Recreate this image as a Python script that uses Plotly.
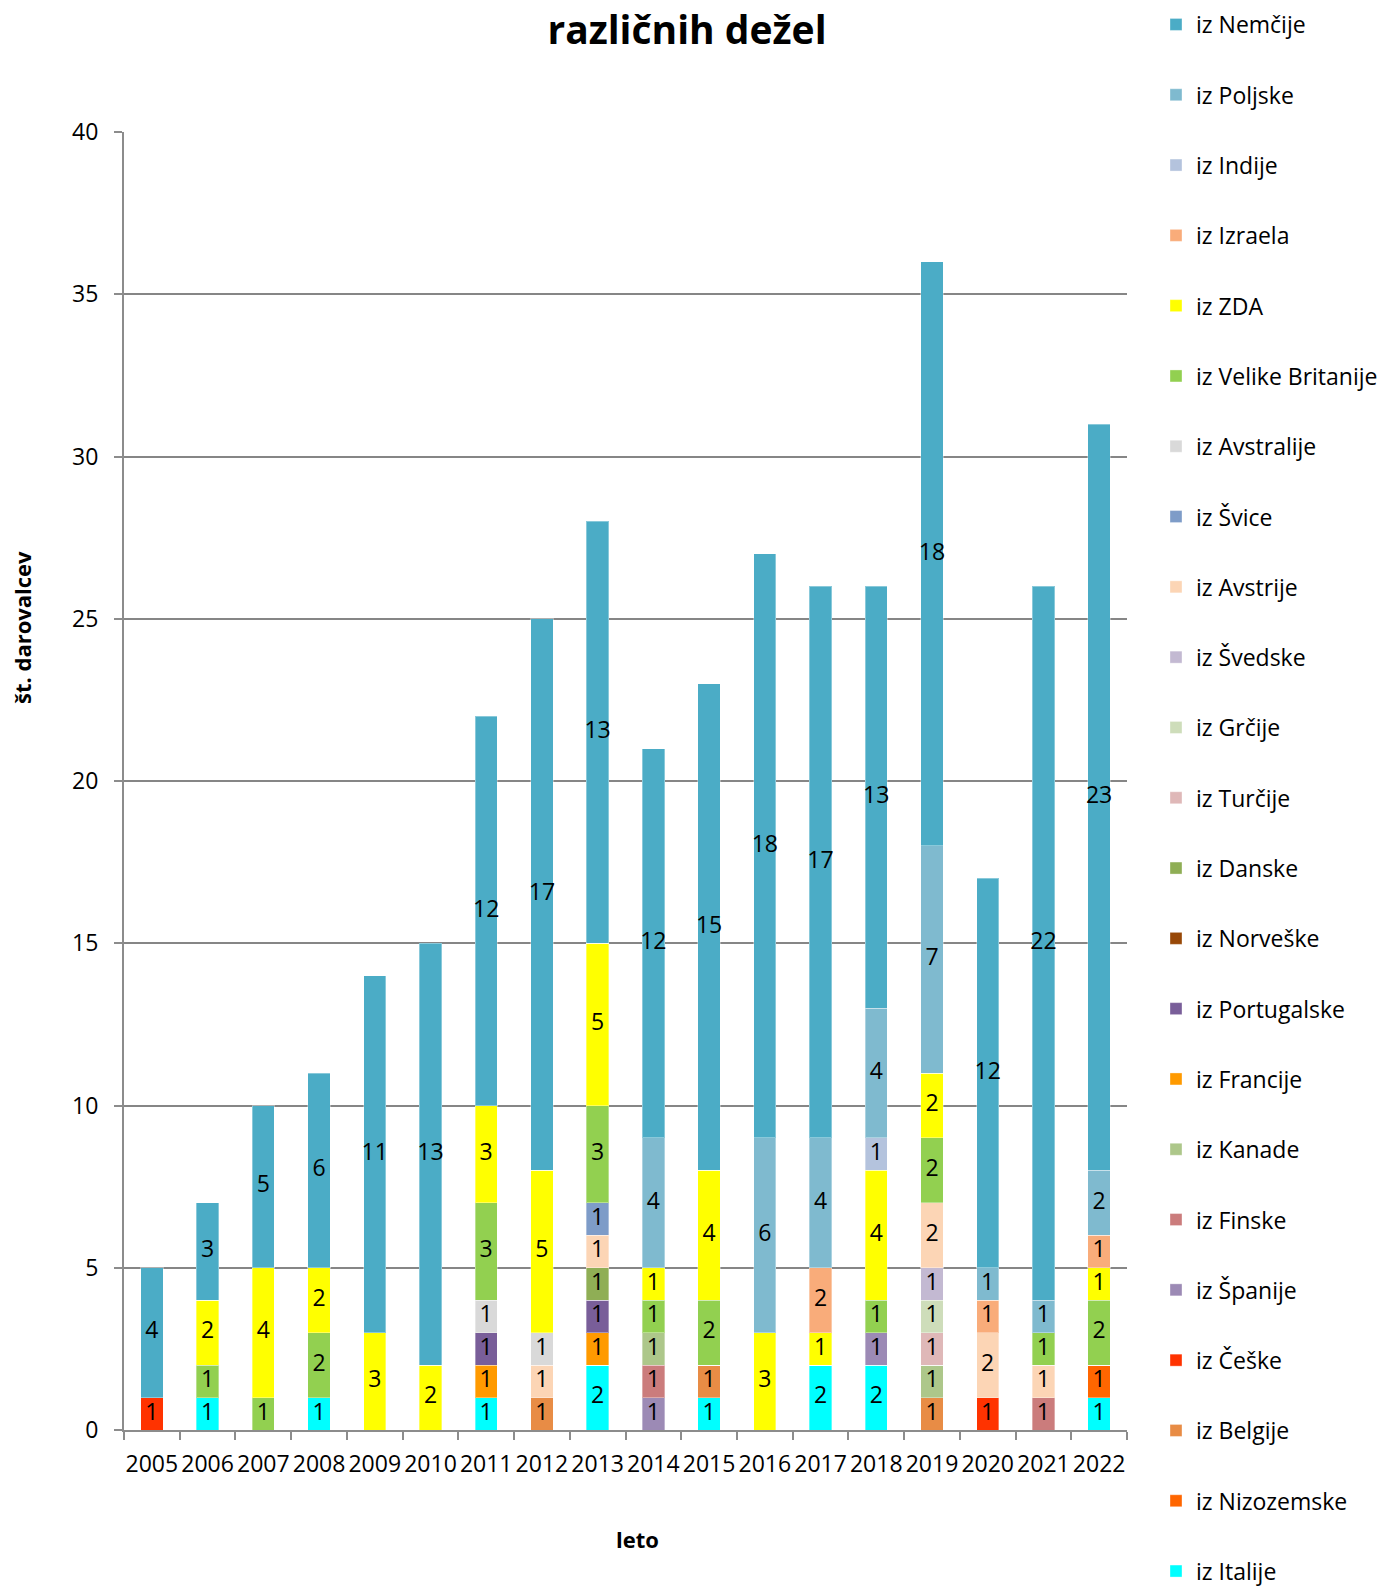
import plotly.graph_objects as go

years = [str(y) for y in range(2005, 2023)]

# series in stacking order (bottom -> top)
italije     = [0,1,0,1,0,0,1,0,2,0,1,0,2,2,0,0,0,1]
nizozemske  = [0,0,0,0,0,0,0,0,0,0,0,0,0,0,0,0,0,1]
belgije     = [0,0,0,0,0,0,0,1,0,0,1,0,0,0,1,0,0,0]
ceske       = [1,0,0,0,0,0,0,0,0,0,0,0,0,0,0,1,0,0]
spanije     = [0,0,0,0,0,0,0,0,0,1,0,0,0,1,0,0,0,0]
finske      = [0,0,0,0,0,0,0,0,0,1,0,0,0,0,0,0,1,0]
kanade      = [0,0,0,0,0,0,0,0,0,1,0,0,0,0,1,0,0,0]
francije    = [0,0,0,0,0,0,1,0,1,0,0,0,0,0,0,0,0,0]
portugalske = [0,0,0,0,0,0,1,0,1,0,0,0,0,0,0,0,0,0]
norveske    = [0,0,0,0,0,0,0,0,0,0,0,0,0,0,0,0,0,0]
danske      = [0,0,0,0,0,0,0,0,1,0,0,0,0,0,0,0,0,0]
turcije     = [0,0,0,0,0,0,0,0,0,0,0,0,0,0,1,0,0,0]
grcije      = [0,0,0,0,0,0,0,0,0,0,0,0,0,0,1,0,0,0]
svedske     = [0,0,0,0,0,0,0,0,0,0,0,0,0,0,1,0,0,0]
avstrije    = [0,0,0,0,0,0,0,1,1,0,0,0,0,0,2,2,1,0]
svice       = [0,0,0,0,0,0,0,0,1,0,0,0,0,0,0,0,0,0]
avstralije  = [0,0,0,0,0,0,1,1,0,0,0,0,0,0,0,0,0,0]
velike_brit = [0,1,1,2,0,0,3,0,3,1,2,0,0,1,2,0,1,2]
zda         = [0,2,4,2,3,2,3,5,5,1,4,3,1,4,2,0,0,1]
izraela     = [0,0,0,0,0,0,0,0,0,0,0,0,2,0,0,1,0,1]
indije      = [0,0,0,0,0,0,0,0,0,0,0,0,0,1,0,0,0,0]
poljske     = [0,0,0,0,0,0,0,0,0,4,0,6,4,4,7,1,1,2]
nemcije     = [4,3,5,6,11,13,12,17,13,12,15,18,17,13,18,12,22,23]

series = [
    ("iz Italije", italije, "#00FFFF"),
    ("iz Nizozemske", nizozemske, "#FF6600"),
    ("iz Belgije", belgije, "#E88C45"),
    ("iz Češke", ceske, "#FF3300"),
    ("iz Španije", spanije, "#9C8AB5"),
    ("iz Finske", finske, "#CB7C7C"),
    ("iz Kanade", kanade, "#ADC78A"),
    ("iz Francije", francije, "#FF9A00"),
    ("iz Portugalske", portugalske, "#795E99"),
    ("iz Norveške", norveske, "#984807"),
    ("iz Danske", danske, "#8FAE55"),
    ("iz Turčije", turcije, "#DFB8B8"),
    ("iz Grčije", grcije, "#CEDDBA"),
    ("iz Švedske", svedske, "#C3B9D2"),
    ("iz Avstrije", avstrije, "#FCD5B5"),
    ("iz Švice", svice, "#7E9CC8"),
    ("iz Avstralije", avstralije, "#D9D9D9"),
    ("iz Velike Britanije", velike_brit, "#92D050"),
    ("iz ZDA", zda, "#FFFF00"),
    ("iz Izraela", izraela, "#F9AC7A"),
    ("iz Indije", indije, "#B4C3DD"),
    ("iz Poljske", poljske, "#7FBACF"),
    ("iz Nemčije", nemcije, "#4BACC6"),
]

FONT = "Open Sans"
L, R, T, B = 124, 1127, 132, 1430
PW, PH = R - L, B - T

fig = go.Figure()
n = len(series)
for k, (name, vals, col) in enumerate(series):
    fig.add_trace(go.Bar(
        x=years, y=vals, name=name, legendgroup=name, legendrank=n - k,
        marker=dict(color=col, line=dict(color="rgba(255,255,255,0.35)", width=1)),
    ))

# data labels at segment midpoints
lx, ly, lt = [], [], []
base = [0] * len(years)
for name, vals, col in series:
    for i, v in enumerate(vals):
        if v:
            lx.append(years[i]); ly.append(base[i] + v / 2); lt.append(str(v))
        base[i] += v
fig.add_trace(go.Scatter(
    x=lx, y=ly, text=lt, mode="text", showlegend=False, hoverinfo="skip",
    textfont=dict(family=FONT, size=23, color="#000000"),
))

fig.update_layout(
    width=1384, height=1588, autosize=False,
    barmode="stack", bargap=0.6,
    plot_bgcolor="white", paper_bgcolor="white",
    margin=dict(l=L, r=1384 - R, t=T, b=1588 - B, autoexpand=False),
    font=dict(family=FONT, size=23, color="#000000"),
    title=dict(text="<b>različnih dežel</b>", x=687/1384, xref="container", xanchor="center",
               y=1 - 30/1588, yref="container", yanchor="middle",
               font=dict(family=FONT, size=39, color="#000000")),
    legend=dict(x=(1156 - L)/PW, xanchor="left", y=(B - 3)/PH, yanchor="top",
                traceorder="grouped", tracegroupgap=37.4, maxheight=2400,
                font=dict(family=FONT, size=23, color="#000000"),
                bgcolor="rgba(0,0,0,0)"),
    xaxis=dict(type="category", range=[-0.5, len(years) - 0.5], autorange=False,
               tickson="boundaries", ticks="outside", ticklen=8,
               tickcolor="#8C8C8C", tickwidth=2, showline=True, linecolor="#8C8C8C",
               linewidth=2, showgrid=False, tickangle=0, tickfont=dict(size=23),
               ticklabelstandoff=12),
    yaxis=dict(range=[0, 40], dtick=5, ticks="outside", ticklen=8, tickcolor="#8C8C8C",
               tickwidth=2, showline=True, linecolor="#8C8C8C", linewidth=2,
               showgrid=True, gridcolor="#868686", gridwidth=1.5, zeroline=False,
               tickfont=dict(size=23), ticklabelstandoff=11),
    annotations=[
        dict(text="<b>št. darovalcev</b>", textangle=-90, xref="paper", yref="paper",
             x=-(L - 22)/PW, y=(B - 628)/PH, xanchor="center", yanchor="middle",
             showarrow=False, font=dict(family=FONT, size=22)),
        dict(text="<b>leto</b>", xref="paper", yref="paper",
             x=(637 - L)/PW, y=-(1539 - B)/PH, xanchor="center", yanchor="middle",
             showarrow=False, font=dict(family=FONT, size=22)),
    ],
    showlegend=True,
)

fig.write_html("out.html")
